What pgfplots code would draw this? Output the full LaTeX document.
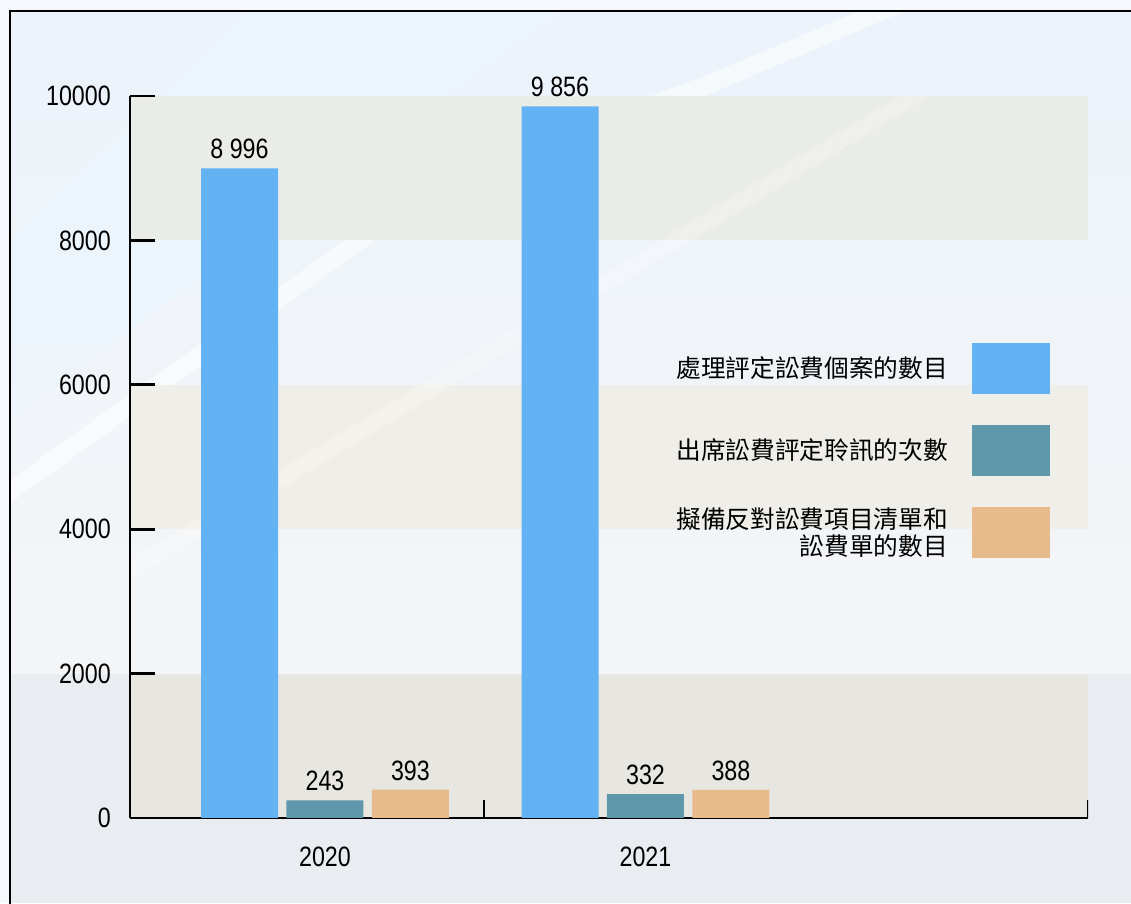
\documentclass[border=0pt]{standalone}
\usepackage{fontspec}
\setmainfont{Liberation Sans}[FakeStretch=0.83]
\newfontfamily\cjk{Noto Sans CJK TC}
\usepackage{pgfplots}
\pgfplotsset{compat=1.18}

\definecolor{cBlue}{HTML}{63B2F4}
\definecolor{cTeal}{HTML}{5F98AA}
\definecolor{cOrange}{HTML}{E8BB8D}
\definecolor{bgOut}{HTML}{F5F8FC}
\definecolor{bgTop}{HTML}{ECF3FA}
\definecolor{bgMid}{HTML}{F4F5F7}
\definecolor{bgBot}{HTML}{E9ECF0}
\definecolor{band1}{HTML}{EAECE7}
\definecolor{band2}{HTML}{F0EEE8}
\definecolor{band3}{HTML}{E7E6E1}

\pgfplotsset{boxlegend/.style={legend image code/.code={\fill[##1] (0pt,-19.125pt) rectangle (58.5pt,19.125pt);}}}

\begin{document}
\begin{tikzpicture}
% background, in pixel units of the reference (origin top left)
\begin{scope}[x=0.75pt,y=-0.75pt,shift={(0pt,677.25pt)}]
\useasboundingbox (0,0) rectangle (1131,903);
\fill[bgOut] (0,0) rectangle (1131,903);
\shade[top color=bgTop, bottom color=bgMid] (10,11) rectangle (1131,673.6);
\fill[bgBot] (10,673.6) rectangle (1131,903);
\fill[cBlue!12, opacity=0.6] (250,11) -- (560,11) -- (10,420) -- (10,240) -- cycle;
\fill[white, opacity=0.55] (10,480) -- (440,172) -- (700,78) -- (860,11) -- (905,11) -- (705,96) -- (445,190) -- (10,503) -- cycle;
% bands
\fill[band1] (130,96) rectangle (1088,240.4);
\fill[band2] (130,384.8) rectangle (1088,529.2);
\fill[band3] (130,673.6) rectangle (1088,818);
\fill[white, opacity=0.25] (130,560) -- (900,96) -- (930,96) -- (130,580) -- cycle;
% frame
\draw[line width=2.2pt] (10,1000) -- (10,11) -- (1200,11);
\end{scope}

\begin{axis}[
    at={(97.5pt,63.75pt)}, anchor=south west,
    scale only axis, width=718.5pt, height=541.5pt,
    axis x line*=bottom, axis y line*=left,
    axis line style={line width=2.2pt},
    xmin=-0.6084, xmax=2.3807,
    ymin=0, ymax=10000,
    ybar, bar width=57.75pt,
    xtick={0,1}, xticklabels={2020,2021},
    ytick={0,2000,4000,6000,8000,10000},
    scaled y ticks=false,
    tick align=inside,
    major tick length=18.75pt,
    every tick/.append style={line width=2.2pt, black},
    xtick style={draw=none},
    /pgf/number format/assume math mode=true,
    ticklabel style={font=\fontsize{21}{25}\selectfont, inner sep=0pt},
    yticklabel style={/pgf/number format/1000 sep={}},
    xticklabel shift=21.75pt,
    yticklabel shift=14.25pt,
    nodes near coords={\pgfmathprintnumber[1000 sep={\ }]{\pgfplotspointmeta}},
    every node near coord/.append style={font=\fontsize{21}{25}\selectfont, anchor=south, inner sep=0pt, yshift=6.75pt, black},
    legend style={at={(0.9603,0.509)}, anchor=east, draw=none, fill=none,
        inner sep=0pt, row sep=23.25pt, column sep=18pt,
        font=\cjk\fontsize{18.5}{20.25}\selectfont,
        nodes={inner sep=0pt, align=right}},
    legend cell align=right,
    legend plot pos=right,
]
\addplot[fill=cBlue, draw=none, bar shift=-64.1pt, boxlegend]
    coordinates {(0,8996) (1,9856)};
\addplot[fill=cTeal, draw=none, bar shift=0pt, boxlegend]
    coordinates {(0,243) (1,332)};
\addplot[fill=cOrange, draw=none, bar shift=64.1pt, boxlegend]
    coordinates {(0,393) (1,388)};
\legend{處理評定訟費個案的數目, 出席訟費評定聆訊的次數, 擬備反對訟費項目清單和\\訟費單的數目}
\draw[line width=2.2pt] (axis cs:0.4961,0) -- ([yshift=13.5pt]axis cs:0.4961,0);
\draw[line width=2.2pt] (axis cs:2.3807,0) -- ([yshift=13.5pt]axis cs:2.3807,0);
\end{axis}
\end{tikzpicture}
\end{document}
